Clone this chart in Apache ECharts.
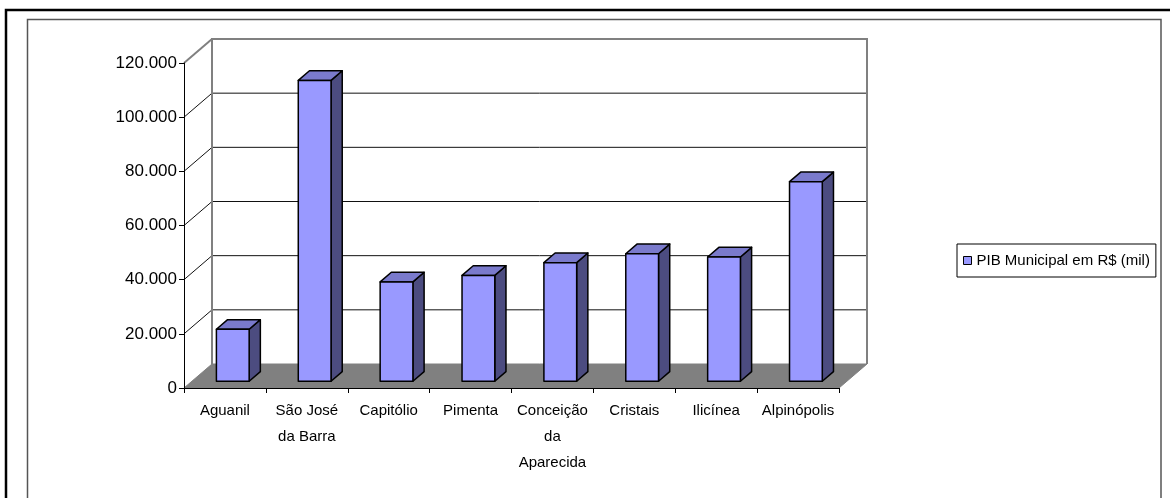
<!DOCTYPE html>
<html>
<head>
<meta charset="utf-8">
<script src="https://cdn.jsdelivr.net/npm/echarts@6/dist/echarts.min.js"></script>
<style>
  html, body { margin: 0; padding: 0; background: #fff; }
  #main { width: 1170px; height: 498px; }
</style>
</head>
<body>
<div id="main"></div>
<script>
const categories = ["Aguanil", "São José\nda Barra", "Capitólio", "Pimenta", "Conceição\nda\nAparecida", "Cristais", "Ilicínea", "Alpinópolis"];
const pibValues = [19200, 111100, 36700, 39100, 43800, 47100, 45900, 73700];
const yTicks = [0, 20000, 40000, 60000, 80000, 100000, 120000];
const seriesName = "PIB Municipal em R$ (mil)";

const FONT = "Liberation Sans, Arial, sans-serif";
// pixel offset of the 3D depth (front -> back wall)
const DEPTH = [28, -24];

const chartContainer = echarts.init(document.getElementById("main"));

const fmt = (v) => String(v).replace(/\B(?=(\d{3})+(?!\d))/g, ".");

// floor, back wall, left wall and grid lines
const renderWalls = (params, api) => {
  const band = api.size([1, 0])[0];
  const L = api.coord([0, 0])[0] - band / 2;
  const R = api.coord([categories.length - 1, 0])[0] + band / 2;
  const y0 = api.coord([0, yTicks[0]])[1];
  const yTop = api.coord([0, yTicks[yTicks.length - 1]])[1];
  const dx = DEPTH[0], dy = DEPTH[1];
  const gray = { stroke: "#808080", lineWidth: 2 };
  const children = [];
  children.push({
    type: "polygon",
    shape: { points: [[L, y0], [L + dx, y0 + dy], [R + dx, y0 + dy], [R, y0]] },
    style: { fill: "#808080", stroke: "#808080", lineWidth: 1 },
  });
  yTicks.forEach((t, i) => {
    const y = api.coord([0, t])[1];
    if (i > 0 && i < yTicks.length - 1) {
      children.push({
        type: "line",
        shape: { x1: L + dx, y1: y + dy, x2: R + dx, y2: y + dy },
        style: { stroke: "#111", lineWidth: 1 },
      });
    }
    if (i > 0) {
      children.push({
        type: "line",
        shape: { x1: L, y1: y, x2: L + dx, y2: y + dy },
        style: i === yTicks.length - 1 ? gray : { stroke: "#111", lineWidth: 1 },
      });
    }
  });
  children.push({
    type: "polyline",
    shape: { points: [[L + dx, y0 + dy], [L + dx, yTop + dy], [R + dx, yTop + dy], [R + dx, y0 + dy]] },
    style: Object.assign({ fill: null }, gray),
  });
  return { type: "group", children: children };
};

const renderBar = (params, api) => {
  const idx = api.value(0);
  const val = api.value(1);
  const band = api.size([1, 0])[0];
  const w = band * 0.4;
  const c = api.coord([idx, val]);
  const b = api.coord([idx, 0]);
  const fx = DEPTH[0] * 0.28, fy = DEPTH[1] * 0.28;
  const dx = DEPTH[0] * 0.4, dy = DEPTH[1] * 0.4;
  const x0 = c[0] + fx - w / 2, x1 = x0 + w;
  const yT = c[1] + fy, yB = b[1] + fy;
  const line = { stroke: "#000", lineWidth: 1.5, lineJoin: "round" };
  return {
    type: "group",
    children: [
      {
        type: "polygon",
        shape: { points: [[x1, yB], [x1 + dx, yB + dy], [x1 + dx, yT + dy], [x1, yT]] },
        style: Object.assign({ fill: "#4C4C80" }, line),
      },
      {
        type: "polygon",
        shape: { points: [[x0, yT], [x0 + dx, yT + dy], [x1 + dx, yT + dy], [x1, yT]] },
        style: Object.assign({ fill: "#7A7ACC" }, line),
      },
      {
        type: "rect",
        shape: { x: x0, y: yT, width: w, height: yB - yT },
        style: Object.assign({ fill: "#9999FF" }, line),
      },
    ],
  };
};

option = {
  animation: false,
  backgroundColor: "#fff",
  textStyle: { fontFamily: FONT },
  graphic: [
    {
      type: "rect",
      shape: { x: 6, y: 10, width: 1200, height: 520 },
      style: { fill: null, stroke: "#000", lineWidth: 2.5 },
      silent: true,
    },
    {
      type: "rect",
      shape: { x: 27.5, y: 19.5, width: 1133.5, height: 520 },
      style: { fill: null, stroke: "#555", lineWidth: 1.5 },
      silent: true,
    },
  ],
  grid: { left: 184, right: 331, top: 63, bottom: 110, containLabel: false },
  legend: {
    left: 957,
    top: 244,
    padding: [9, 6, 9, 6],
    borderColor: "#000",
    borderWidth: 1,
    backgroundColor: "#fff",
    itemWidth: 8,
    itemHeight: 8,
    textStyle: { fontSize: 15, color: "#000", fontFamily: FONT },
    data: [{ name: seriesName, icon: "rect", itemStyle: { color: "#9999FF", borderColor: "#000", borderWidth: 1 } }],
  },
  xAxis: {
    type: "category",
    data: categories,
    boundaryGap: true,
    z: 10,
    axisLine: { lineStyle: { color: "#000", width: 1 } },
    axisTick: { show: true, length: 5, lineStyle: { color: "#000" } },
    axisLabel: { color: "#000", fontSize: 15, lineHeight: 26, margin: 10, interval: 0, fontFamily: FONT },
    splitLine: { show: false },
  },
  yAxis: {
    type: "value",
    min: 0,
    max: 120000,
    interval: 20000,
    z: 10,
    axisLine: { show: true, lineStyle: { color: "#000", width: 1 } },
    axisTick: { show: true, length: 5, lineStyle: { color: "#000" } },
    axisLabel: { color: "#000", fontSize: 17, margin: 7, formatter: fmt, fontFamily: FONT },
    splitLine: { show: false },
  },
  series: [
    {
      type: "custom",
      name: "walls",
      z: 1,
      silent: true,
      renderItem: renderWalls,
      data: [[0, 0]],
      clip: false,
    },
    {
      type: "custom",
      name: seriesName,
      z: 2,
      renderItem: renderBar,
      encode: { x: 0, y: 1 },
      itemStyle: { color: "#9999FF" },
      data: pibValues.map((v, i) => [i, v]),
      clip: false,
    },
  ],
};

chartContainer.setOption(option);
</script>
</body>
</html>
